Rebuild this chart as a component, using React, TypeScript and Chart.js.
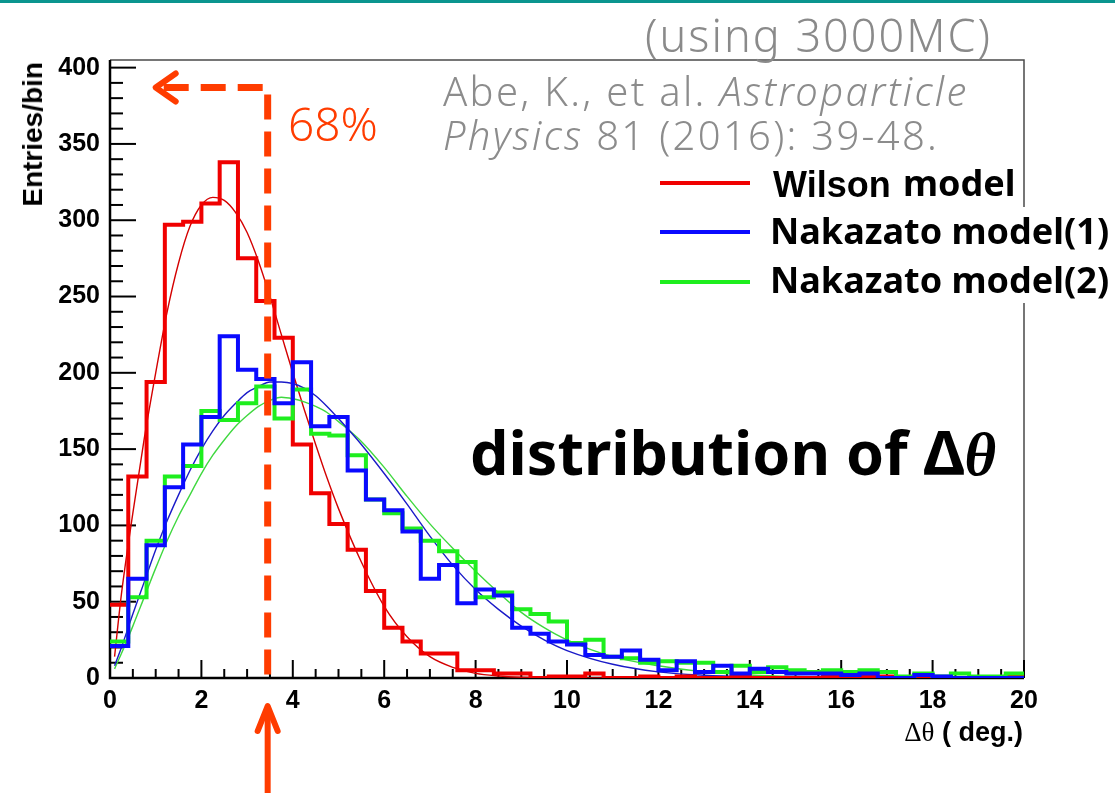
import { useEffect, useRef } from 'react';
import { Chart, registerables } from 'chart.js';

Chart.register(...registerables);

// Δθ histograms: 50 bins of 0.4 deg between 0 and 20 deg
const BIN_WIDTH = 0.4;
const X_MAX = 20;
const Y_MAX = 405;

const wilsonCounts = [
  48, 132, 194, 297, 299, 311, 338, 275, 247, 223,
  153, 121, 101, 84, 57, 33, 24, 16, 16, 5,
  5, 3, 3, 0, 1, 1, 3, 0, 0, 1,
  0, 1, 0, 0, 1, 0, 0, 0, 0, 1,
  0, 1, 1, 0, 0, 0, 0, 0, 0, 1,
];

const nakazato1Counts = [
  21, 65, 87, 125, 153, 171, 224, 202, 196, 180,
  207, 165, 171, 136, 117, 110, 96, 65, 74, 49,
  58, 54, 33, 29, 24, 22, 15, 14, 18, 12,
  5, 11, 4, 8, 3, 6, 4, 3, 3, 3,
  2, 3, 0, 0, 2, 1, 0, 0, 0, 0,
];

const nakazato2Counts = [
  24, 53, 90, 132, 139, 175, 169, 180, 191, 170,
  189, 160, 159, 146, 117, 108, 98, 90, 83, 76,
  53, 56, 45, 42, 37, 23, 25, 14, 13, 10,
  11, 10, 10, 4, 8, 4, 7, 5, 4, 5,
  4, 5, 4, 1, 3, 1, 3, 1, 1, 3,
];

// fitted curves, sampled at these Δθ values
const fitX = [
  0.1, 0.25, 0.5, 0.75, 1.0, 1.25, 1.5, 1.75, 2.0, 2.25,
  2.5, 2.75, 3.0, 3.25, 3.5, 3.75, 4.0, 4.25, 4.5, 4.75,
  5.0, 5.5, 6.0, 6.5, 7.0, 7.5, 8.0, 8.5, 9.0, 9.5,
  10, 11, 12, 13, 14, 15, 16, 17, 18, 19, 20,
];
const wilsonFit = [
  14, 55, 108, 157, 200, 240, 272, 296, 310, 315,
  313, 305, 292, 273, 250, 225, 200, 176, 153, 131,
  111, 76, 47, 27, 14, 7, 3, 1.3, 0.5, 0.2,
  0.1, 0, 0, 0, 0, 0, 0, 0, 0, 0, 0,
];
const nakazato1Fit = [
  8, 20, 42, 63, 84, 103, 120, 136, 150, 162,
  172, 180, 187, 191, 194, 194, 193, 190, 185, 178,
  170, 153, 134, 114, 93, 74, 58, 45, 34, 25,
  18, 9, 4, 1.8, 0.8, 0.4, 0.2, 0.1, 0, 0, 0,
];
const nakazato2Fit = [
  6, 16, 34, 53, 72, 90, 106, 120, 134, 146,
  156, 165, 172, 178, 182, 184, 183, 181, 178, 174,
  168, 155, 138, 119, 101, 85, 70, 56, 43, 33,
  25, 14, 8, 4, 2, 1, 0.5, 0.2, 0, 0, 0,
];

// 68% containment angle and the height of its guide arrow
const CONTAINMENT_68 = 3.45;
const GUIDE_LEVEL = 387;

const ORANGE = '#ff3c00';
const RED = '#f00000';
const BLUE = '#0a0aff';
const GREEN = '#1eee1e';

const histPoints = (counts: number[]) => {
  const pts = counts.map((v, i) => ({ x: i * BIN_WIDTH, y: v }));
  pts.push({ x: X_MAX, y: counts[counts.length - 1] });
  return pts;
};
const curvePoints = (ys: number[]) => fitX.map((x, i) => ({ x, y: ys[i] }));

const histStyle = (color: string) => ({
  borderColor: color,
  borderWidth: 4,
  stepped: 'before' as const,
  pointRadius: 0,
  borderJoinStyle: 'miter' as const,
  borderCapStyle: 'butt' as const,
  fill: false,
});
const fitStyle = (color: string) => ({
  borderColor: color,
  borderWidth: 1.4,
  pointRadius: 0,
  tension: 0.4,
  cubicInterpolationMode: 'monotone' as const,
  fill: false,
});

const frameAndGuide = {
  id: 'frameAndGuide',
  beforeDatasetsDraw(chart: any) {
    const { ctx, chartArea: a, scales } = chart;
    const x = scales.x;
    const y = scales.y;
    ctx.save();
    ctx.strokeStyle = '#4a4a4a';
    ctx.lineWidth = 1.5;
    ctx.beginPath();
    ctx.moveTo(a.left, a.top);
    ctx.lineTo(a.right, a.top);
    ctx.lineTo(a.right, a.bottom);
    ctx.stroke();

    ctx.strokeStyle = '#000';
    ctx.lineWidth = 2;
    for (let v = 0; v <= 400; v += 10) {
      const py = y.getPixelForValue(v);
      const len = v % 50 === 0 ? 26 : 13;
      ctx.beginPath();
      ctx.moveTo(a.left, py);
      ctx.lineTo(a.left + len, py);
      ctx.stroke();
    }
    for (let i = 0; i <= 40; i++) {
      const px = x.getPixelForValue(i * 0.5);
      const len = i % 4 === 0 ? 18 : 9;
      ctx.beginPath();
      ctx.moveTo(px, a.bottom);
      ctx.lineTo(px, a.bottom - len);
      ctx.stroke();
    }
    ctx.lineWidth = 2.5;
    ctx.beginPath();
    ctx.moveTo(a.left, a.top);
    ctx.lineTo(a.left, a.bottom);
    ctx.lineTo(a.right, a.bottom);
    ctx.stroke();
    ctx.restore();
  },
  afterDraw(chart: any) {
    const { ctx, chartArea: a, scales } = chart;
    const gx = scales.x.getPixelForValue(CONTAINMENT_68);
    const gy = scales.y.getPixelForValue(GUIDE_LEVEL);
    const tipX = scales.x.getPixelForValue(1.0);
    ctx.save();
    ctx.strokeStyle = ORANGE;
    ctx.lineWidth = 7;
    ctx.setLineDash([25, 12]);
    ctx.lineCap = 'butt';
    ctx.beginPath();
    ctx.moveTo(tipX + 8, gy);
    ctx.lineTo(gx, gy);
    ctx.lineTo(gx, a.bottom);
    ctx.stroke();
    ctx.setLineDash([]);
    // left-pointing head
    ctx.lineCap = 'round';
    ctx.lineJoin = 'round';
    ctx.lineWidth = 6;
    ctx.beginPath();
    ctx.moveTo(tipX + 20, gy - 14);
    ctx.lineTo(tipX, gy);
    ctx.lineTo(tipX + 20, gy + 14);
    ctx.stroke();
    // upward arrow under the axis
    ctx.lineCap = 'butt';
    ctx.lineWidth = 6;
    ctx.beginPath();
    ctx.moveTo(gx, 793);
    ctx.lineTo(gx, 712);
    ctx.stroke();
    ctx.lineCap = 'round';
    ctx.beginPath();
    ctx.moveTo(gx - 10, 731);
    ctx.lineTo(gx, 706);
    ctx.lineTo(gx + 10, 731);
    ctx.stroke();
    ctx.restore();
  },
};

const tickFont = { family: 'Liberation Sans, Arial, sans-serif', size: 25, weight: 'bold' as const };

export default function App() {
  const canvasRef = useRef<HTMLCanvasElement>(null);

  useEffect(() => {
    const chart = new Chart(canvasRef.current!, {
      type: 'line',
      data: {
        datasets: [
          { label: 'Nakazato model(1)', data: histPoints(nakazato1Counts), ...histStyle(BLUE) },
          { label: 'Nakazato model(2)', data: histPoints(nakazato2Counts), ...histStyle(GREEN) },
          { label: 'Wilson model', data: histPoints(wilsonCounts), ...histStyle(RED) },
          { label: 'Nakazato fit(1)', data: curvePoints(nakazato1Fit), ...fitStyle('#1a1ac8') },
          { label: 'Nakazato fit(2)', data: curvePoints(nakazato2Fit), ...fitStyle('#3fd83f') },
          { label: 'Wilson fit', data: curvePoints(wilsonFit), ...fitStyle('#d40000') },
        ],
      },
      options: {
        responsive: false,
        animation: false,
        devicePixelRatio: 1,
        layout: { padding: { left: 0, top: 60, right: 91, bottom: 0 } },
        plugins: { legend: { display: false }, tooltip: { enabled: false } },
        scales: {
          x: {
            type: 'linear',
            min: 0,
            max: X_MAX,
            grid: { display: false, drawTicks: false },
            border: { display: false },
            ticks: { stepSize: 2, font: tickFont, color: '#000', padding: 8, maxRotation: 0, autoSkip: false },
            afterFit: (s: any) => { s.height = 115; },
          },
          y: {
            type: 'linear',
            min: 0,
            max: Y_MAX,
            grid: { display: false, drawTicks: false },
            border: { display: false },
            ticks: { stepSize: 50, includeBounds: false, font: tickFont, color: '#000', padding: 10, autoSkip: false },
            afterFit: (s: any) => { s.width = 110; },
          },
        },
      },
      plugins: [frameAndGuide],
    } as any);
    return () => chart.destroy();
  }, []);

  const sans = "'Noto Sans', 'Noto Sans CJK JP', sans-serif";
  const abs = (o: any) => ({ position: 'absolute' as const, whiteSpace: 'nowrap' as const, lineHeight: 1, ...o });

  return (
    <div style={{ position: 'relative', width: 1115, height: 793, overflow: 'hidden', background: '#fff' }}>
      <style>{'html,body{margin:0;padding:0;overflow:hidden;background:#fff}'}</style>
      <canvas ref={canvasRef} width={1115} height={793} style={{ position: 'absolute', left: 0, top: 0 }} />
      <div style={abs({ left: 0, top: 0, width: 1115, height: 3, background: '#0b958f' })} />

      <div style={abs({ left: 645, top: 12, fontFamily: sans, fontWeight: 300, fontSize: 45, color: '#8a8a8a', letterSpacing: 2 })}>
        (using 3000MC)
      </div>
      <div style={abs({ left: 443, top: 71, fontFamily: sans, fontWeight: 300, fontSize: 40, color: '#8c8c8c', letterSpacing: 2.3 })}>
        Abe, K., et al. <i>Astroparticle</i>
      </div>
      <div style={abs({ left: 443, top: 115, fontFamily: sans, fontWeight: 300, fontSize: 40, color: '#8c8c8c', letterSpacing: 2.3 })}>
        <i>Physics</i> 81 (2016): 39-48.
      </div>

      <div style={abs({ left: 288, top: 100, fontFamily: sans, fontWeight: 300, fontSize: 46, color: ORANGE })}>68%</div>

      {/* legend */}
      <div style={abs({ left: 655, top: 207, width: 460, height: 96, background: '#fff' })} />
      <div style={abs({ left: 660, top: 181, width: 90, height: 4, background: RED })} />
      <div style={abs({ left: 660, top: 230, width: 90, height: 4, background: BLUE })} />
      <div style={abs({ left: 660, top: 280, width: 90, height: 4, background: GREEN })} />
      <div style={abs({ left: 773, top: 167, fontFamily: 'Liberation Sans, Arial, sans-serif', fontWeight: 700, fontSize: 36, color: '#000' })}>Wilson</div>
      <div style={abs({ left: 903, top: 165, fontFamily: sans, fontWeight: 700, fontSize: 36, color: '#000' })}>model</div>
      <div style={abs({ left: 770, top: 213, fontFamily: sans, fontWeight: 700, fontSize: 36, color: '#000' })}>Nakazato model(1)</div>
      <div style={abs({ left: 770, top: 262, fontFamily: sans, fontWeight: 700, fontSize: 36, color: '#000' })}>Nakazato model(2)</div>

      <div style={abs({ left: 470, top: 421, fontFamily: sans, fontWeight: 700, fontSize: 61, color: '#000' })}>
        distribution of Δ<span style={{ fontFamily: "'Liberation Serif', serif", fontStyle: 'italic', fontWeight: 700 }}>θ</span>
      </div>

      {/* axis titles */}
      <div style={abs({ left: 19, top: 62, writingMode: 'vertical-rl', transform: 'rotate(180deg)', fontFamily: 'Liberation Sans, Arial, sans-serif', fontWeight: 700, fontSize: 28, color: '#000' })}>
        Entries/bin
      </div>
      <div style={abs({ right: 92, top: 719, fontFamily: 'Liberation Sans, Arial, sans-serif', fontWeight: 700, fontSize: 27, color: '#000', textAlign: 'right' })}>
        <span style={{ fontFamily: "'Liberation Serif', serif", fontWeight: 400 }}>Δθ</span> ( deg.)
      </div>
    </div>
  );
}
